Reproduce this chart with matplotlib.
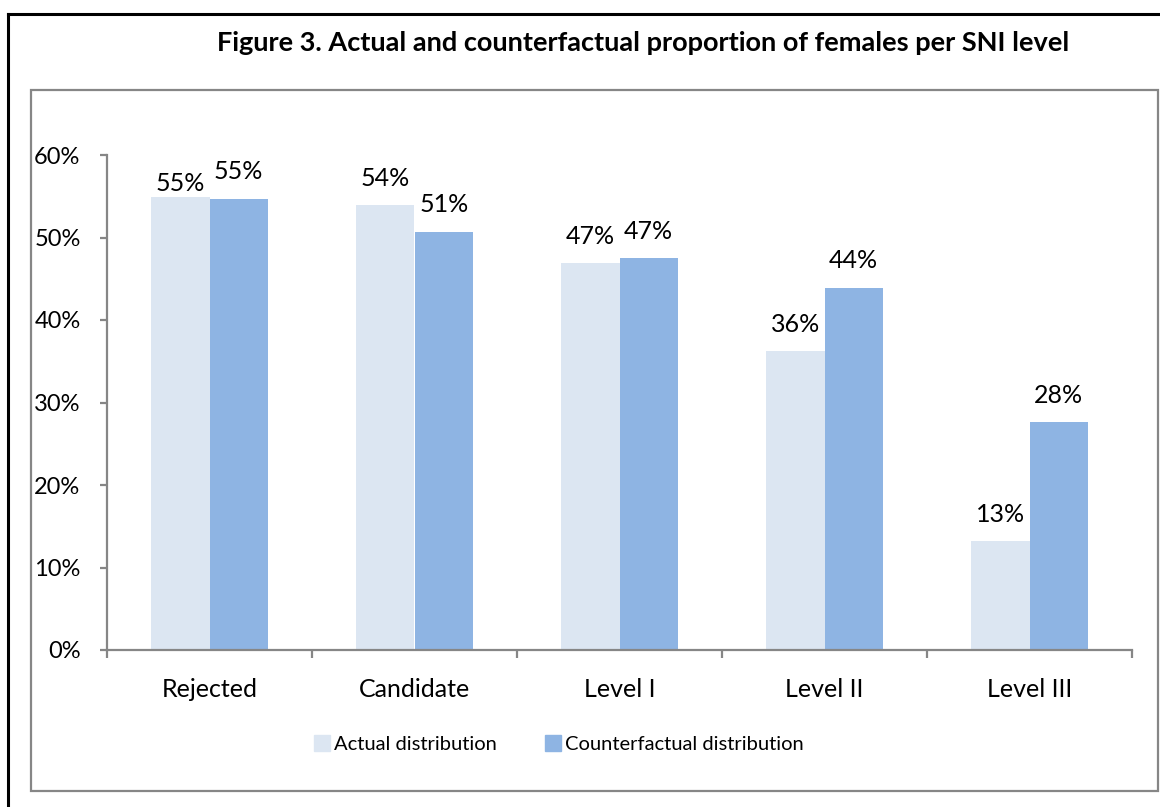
"""Figure 3: actual vs counterfactual share of females per SNI level."""

import matplotlib
matplotlib.use("Agg")
import matplotlib.pyplot as plt
import numpy as np
from matplotlib.lines import Line2D
from matplotlib.patches import Rectangle, Patch
from matplotlib.ticker import FuncFormatter


CATEGORIES = ["Rejected", "Candidate", "Level I", "Level II", "Level III"]
ACTUAL = [54.9, 53.9, 46.9, 36.2, 13.2]
COUNTERFACTUAL = [54.7, 50.7, 47.5, 43.9, 27.6]
ACTUAL_LABELS = ["55%", "54%", "47%", "36%", "13%"]
COUNTERFACTUAL_LABELS = ["55%", "51%", "47%", "44%", "28%"]

TITLE = "Figure 3. Actual and counterfactual proportion of females per SNI level"

ACTUAL_COLOR = "#DCE6F2"
COUNTER_COLOR = "#8EB4E3"
AXIS_COLOR = "#868686"

plt.rcParams["font.family"] = ["Lato", "DejaVu Sans"]

W, H = 1160, 807
fig = plt.figure(figsize=(W / 100, H / 100), dpi=100)

# outer black border (top and left only are visible)
fig.add_artist(Line2D([8 / W, 1], [1 - 14 / H, 1 - 14 / H],
                      color="black", lw=2.2, transform=fig.transFigure))
fig.add_artist(Line2D([8 / W, 8 / W], [0, 1 - 14 / H],
                      color="black", lw=2.2, transform=fig.transFigure))

# inner grey chart frame
fig.add_artist(Rectangle((31 / W, 1 - 791 / H), (1158 - 31) / W,
                         (791 - 90) / H, fill=False, ec=AXIS_COLOR,
                         lw=1.6, transform=fig.transFigure))

fig.text(643 / W, 1 - 43 / H, TITLE, ha="center", va="center",
         fontsize=19.5, fontweight="bold")

ax = fig.add_axes([107 / W, 1 - 650 / H, (1132 - 107) / W, (650 - 155) / H])

x = np.arange(len(CATEGORIES)) + 0.5
width = 0.285

ax.bar(x - width / 2, ACTUAL, width, color=ACTUAL_COLOR,
       label="Actual distribution")
ax.bar(x + width / 2, COUNTERFACTUAL, width, color=COUNTER_COLOR,
       label="Counterfactual distribution")

for i, (xi, value, text) in enumerate(zip(x - width / 2, ACTUAL, ACTUAL_LABELS)):
    offset = 14 if i == 0 else 27
    ax.annotate(text, (xi, value), xytext=(0, offset),
                textcoords="offset pixels", ha="center", va="center",
                fontsize=18)

for xi, value, text in zip(x + width / 2, COUNTERFACTUAL, COUNTERFACTUAL_LABELS):
    ax.annotate(text, (xi, value), xytext=(0, 27),
                textcoords="offset pixels", ha="center", va="center",
                fontsize=18)

ax.set_xlim(0, len(CATEGORIES))
ax.set_ylim(0, 60)
ax.set_yticks(np.arange(0, 61, 10))
ax.yaxis.set_major_formatter(FuncFormatter(lambda v, _: f"{v:.0f}%"))
ax.set_xticks(np.arange(len(CATEGORIES) + 1))
ax.set_xticklabels([])
ax.set_xticks(x, minor=True)
ax.set_xticklabels(CATEGORIES, minor=True)

ax.tick_params(axis="y", which="major", direction="out", length=5,
               color=AXIS_COLOR, width=1.6, labelsize=17, pad=14)
ax.tick_params(axis="x", which="major", direction="out", length=6,
               color=AXIS_COLOR, width=1.6)
ax.tick_params(axis="x", which="minor", length=0, labelsize=18, pad=20)

for side in ("top", "right"):
    ax.spines[side].set_visible(False)
for side in ("left", "bottom"):
    ax.spines[side].set_color(AXIS_COLOR)
    ax.spines[side].set_linewidth(1.6)

handles = [Patch(color=ACTUAL_COLOR), Patch(color=COUNTER_COLOR)]
fig.legend(handles, ["Actual distribution", "Counterfactual distribution"],
           loc="center", bbox_to_anchor=(559 / W, 1 - 744 / H), ncol=2,
           frameon=False, fontsize=14.5, handlelength=0.8, handleheight=0.8,
           handletextpad=0.2, columnspacing=2.4)

fig.savefig("out.png", dpi=100)
